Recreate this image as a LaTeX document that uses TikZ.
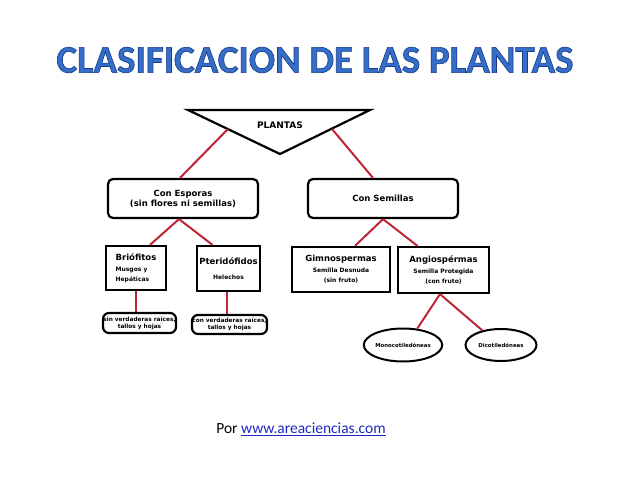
\documentclass[tikz,border=0pt]{standalone}
\usepackage{fontspec}
\setmainfont{Carlito}
\newfontfamily\diagfont{DejaVu Sans}
\newfontfamily\headfont[FakeBold=1.6]{Carlito Bold}
\usetikzlibrary{shapes.geometric}
\definecolor{titleblue}{RGB}{52,110,200}
\definecolor{linkred}{RGB}{190,38,56}
\definecolor{urlblue}{RGB}{30,40,190}
\newcommand{\subsize}{\fontsize{6}{7}\selectfont}
\newcommand{\mainsize}{\fontsize{8.5}{10}\selectfont}
% dark blue edge for the heading letters
\newcommand{\headedge}{\special{pdf:code 0.09 0.23 0.54 RG}}

\begin{document}
\begin{tikzpicture}[x=1pt, y=-1pt,
    titlefont/.style={font=\headfont\fontsize{38.9}{40}\selectfont},
    box/.style={draw, line width=2.2pt, inner sep=0.5pt, font=\diagfont\bfseries\mainsize, align=center},
    roundbox/.style={box, rounded corners=5pt},
    leafbox/.style={box, rounded corners=6pt, inner sep=0pt, font=\diagfont\bfseries\fontsize{5.8}{6.8}\selectfont},
    oval/.style={draw, ellipse, line width=2pt, inner sep=0pt, font=\diagfont\bfseries\fontsize{5.4}{6.4}\selectfont},
    link/.style={draw=linkred, line width=2pt}]

    \useasboundingbox (0,0) rectangle (638,479);

    % Title
    \node[titlefont, text=titleblue] (title) at (315,60) {\headedge CLASIFICACION DE LAS PLANTAS};

    % Root triangle: PLANTAS
    \coordinate (tria) at (188,110);
    \coordinate (trib) at (370,110);
    \coordinate (tric) at (280,154);
    \draw[line width=2.2pt] (tria) -- (trib) -- (tric) -- cycle;
    \node[font=\diagfont\bfseries\fontsize{9}{10}\selectfont] (plantas) at (280,125) {PLANTAS};
    \coordinate (triL) at (228,129);
    \coordinate (triR) at (332,129);

    % First level
    \node[roundbox, minimum width=150pt, minimum height=39pt] (esporas) at (183,198.5) {Con Esporas\\(sin flores ni semillas)};
    \node[roundbox, minimum width=150pt, minimum height=39pt] (semillas) at (383,198.5) {Con Semillas};

    % Second level
    \node[box, align=left, minimum width=60pt, minimum height=44pt] (briofitos) at (136,268) {Briófitos\\[1pt]{\subsize Musgos y}\\{\subsize Hepáticas}};
    \node[box, minimum width=63pt, minimum height=45pt] (pterido) at (228.5,268.5) {Pteridófidos\\[5pt]{\subsize Helechos}};
    \node[box, minimum width=98pt, minimum height=45pt] (gimno) at (341,269.5) {Gimnospermas\\[1pt]{\subsize Semilla Desnuda}\\{\subsize (sin fruto)}};
    \node[box, minimum width=91pt, minimum height=46pt] (angio) at (443.5,270) {Angiospérmas\\[1pt]{\subsize Semilla Protegida}\\{\subsize (con fruto)}};

    % Third level
    \node[leafbox, minimum width=73pt, minimum height=20pt] (sinraices) at (139.5,323) {sin verdaderas raíces,\\tallos y hojas};
    \node[leafbox, minimum width=75pt, minimum height=19pt] (conraices) at (229.5,324.5) {con verdaderas raíces,\\tallos y hojas};
    \node[oval, minimum width=71pt, minimum height=33pt] (mono) at (403,345) {Monocotiledóneas};
    \node[oval, minimum width=71pt, minimum height=32pt] (dico) at (501,345) {Dicotiledóneas};

    % Connectors
    \draw[link] (triL) -- ([xshift=-3pt]esporas.north);
    \draw[link] (triR) -- ([xshift=-10pt]semillas.north);
    \draw[link] ([xshift=-4pt]esporas.south) -- ([xshift=14pt]briofitos.north);
    \draw[link] ([xshift=-4pt]esporas.south) -- ([xshift=-16pt]pterido.north);
    \draw[link] (semillas.south) -- ([xshift=14pt]gimno.north);
    \draw[link] (semillas.south) -- ([xshift=-26pt]angio.north);
    \draw[link] (briofitos.south) -- (briofitos.south |- sinraices.north);
    \draw[link] ([xshift=-2pt]pterido.south) -- ([xshift=-2pt]pterido.south |- conraices.north);
    \draw[link] ([xshift=-3.5pt]angio.south) -- (mono.49);
    \draw[link] ([xshift=-3.5pt]angio.south) -- (dico.142);

    % Credit line
    \node[font=\fontsize{15.5}{18}\selectfont] (credit) at (301,429) {Por \textcolor{urlblue}{\underline{www.areaciencias.com}}};

\end{tikzpicture}
\end{document}
